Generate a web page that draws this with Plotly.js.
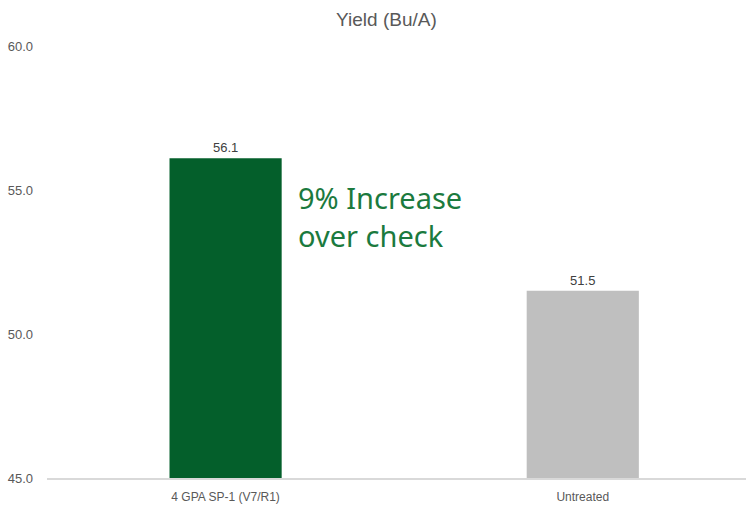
<!DOCTYPE html>
<html><head><meta charset="utf-8">
<script src="https://cdn.plot.ly/plotly-3.0.1.min.js"></script>
<style>html,body{margin:0;padding:0;background:#fff}</style>
</head><body>
<div id="chart" style="width:746px;height:508px"></div>
<script>
const categories = ["4 GPA SP-1 (V7/R1)", "Untreated"];
const yieldValues = [56.1, 51.5];
const barColors = ["#045f2b", "#bfbfbf"];
const yTicks = [45, 50, 55, 60];
const yTickLabels = ["45.0", "50.0", "55.0", "60.0"];

const trace = {
  type: "bar",
  x: categories,
  y: yieldValues,
  marker: {color: barColors},
  width: 0.314,
  text: yieldValues.map(v => v.toFixed(1)),
  textposition: "outside",
  cliponaxis: false,
  textfont: {family: "Liberation Sans, Arial, sans-serif", size: 13, color: "#404040"},
  hoverinfo: "skip"
};

const layout = {
  width: 746, height: 508,
  margin: {l: 47, r: 0, t: 46, b: 30},
  paper_bgcolor: "#fff", plot_bgcolor: "#fff",
  showlegend: false,
  title: {text: "Yield (Bu/A)", x: 0.518, xanchor: "center", y: 0.962, yanchor: "middle",
    font: {family: "Liberation Sans, Arial, sans-serif", size: 19, color: "#595959"}},
  xaxis: {
    range: [-0.5, 1.457], fixedrange: true, automargin: false,
    showgrid: false, zeroline: false, showline: true, linecolor: "#d9d9d9", linewidth: 1.5,
    ticks: "", ticklabelstandoff: 7,
    tickfont: {family: "Liberation Sans, Arial, sans-serif", size: 12, color: "#595959"}
  },
  yaxis: {
    range: [45, 60], fixedrange: true, automargin: false,
    tickvals: yTicks, ticktext: yTickLabels,
    showgrid: false, zeroline: false, showline: false, ticks: "",
    ticklabelstandoff: 13,
    tickfont: {family: "Liberation Sans, Arial, sans-serif", size: 13, color: "#595959"}
  },
  annotations: [{
    xref: "paper", yref: "paper",
    x: (296 - 47) / 699, y: (478 - 216) / 432,
    xanchor: "left", yanchor: "middle", align: "left", showarrow: false,
    text: "9% Increase<br>over check",
    font: {family: "Noto Sans, sans-serif", size: 29, color: "#1b7a3e"}
  }]
};

Plotly.newPlot("chart", [trace], layout, {displayModeBar: false, staticPlot: true});
</script>
</body></html>
